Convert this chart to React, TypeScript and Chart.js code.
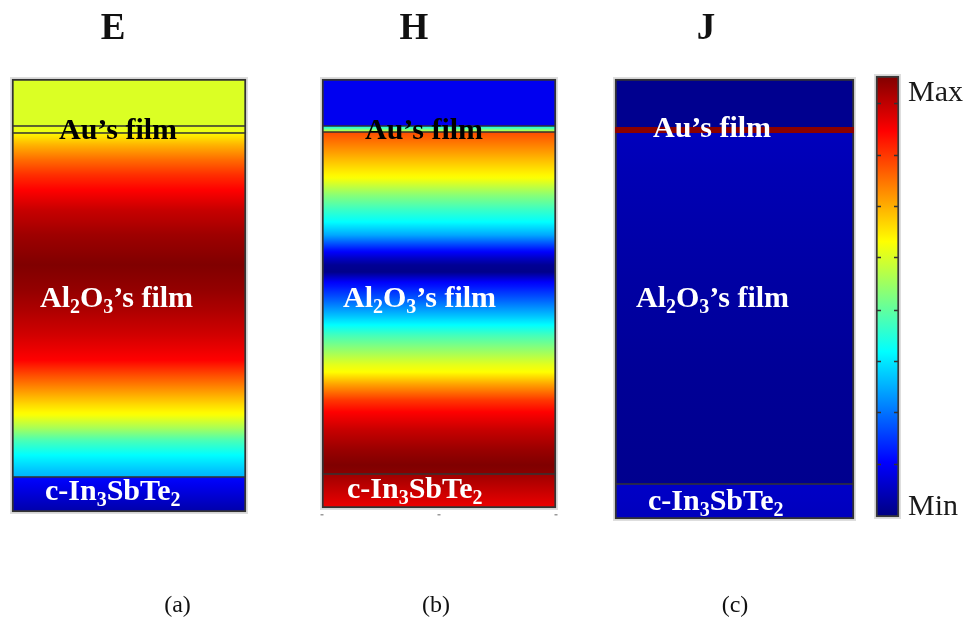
import React, { useEffect, useRef } from "react";
import { Chart, registerables } from "chart.js";

Chart.register(...registerables);

// ---- data -------------------------------------------------------------
const PANEL_TITLES = ["E", "H", "J"];
const PANEL_CAPTIONS = ["(a)", "(b)", "(c)"];

// Layer boundaries, depth below the top of each panel:
// ambient | Au film | Al2O3 film | c-In3SbTe2
const LAYERS_E = [0, 47, 54, 398, 433];
const LAYERS_H = [0, 47, 53, 395, 429];
const LAYERS_J = [0, 48, 54, 405, 440];

// Normalised field intensity (0 = Min, 1 = Max) sampled along depth.
// Repeated depths mark the jump across an interface.
const DEPTH_E = [0, 47, 47, 54, 54, 66, 81, 96, 111, 131, 156, 186, 211, 231, 256, 281, 296, 311, 326, 336, 349, 361, 376, 391, 398, 398, 433];
const FIELD_E = [0.59, 0.59, 0.6, 0.61, 0.63, 0.7, 0.77, 0.83, 0.875, 0.93, 0.97, 1.0, 0.98, 0.955, 0.92, 0.875, 0.8, 0.73, 0.66, 0.62, 0.54, 0.45, 0.375, 0.32, 0.3, 0.13, 0.04];

const DEPTH_H = [0, 47, 47, 53, 53, 71, 86, 99, 116, 131, 143, 156, 171, 179, 186, 193, 203, 221, 236, 246, 256, 271, 286, 293, 306, 321, 333, 351, 371, 386, 395, 395, 429];
const FIELD_H = [0.11, 0.11, 0.36, 0.6, 0.8, 0.73, 0.67, 0.62, 0.51, 0.43, 0.375, 0.29, 0.14, 0.07, 0.02, 0.01, 0.12, 0.22, 0.31, 0.375, 0.44, 0.52, 0.6, 0.625, 0.72, 0.82, 0.875, 0.93, 0.975, 1.0, 0.99, 0.97, 0.89];

const DEPTH_J = [0, 48, 48, 54, 54, 100, 200, 300, 405, 405, 440];
const FIELD_J = [0.015, 0.015, 0.99, 0.99, 0.06, 0.05, 0.035, 0.022, 0.014, 0.07, 0.06];

// Colour-bar tick positions (normalised)
const COLORBAR_TICKS = [0.12, 0.237, 0.354, 0.47, 0.59, 0.705, 0.82, 0.938];

// ---- layout & style ---------------------------------------------------
const W = 969;
const H = 620;
const PANEL_X = [129, 439, 734.5];
const PANEL_W = [234, 234, 239];
const COLORBAR_X = 887.5;
const COLORBAR_W = 23;
// interface lines drawn between consecutive layers (Au top, Au bottom, c-In3SbTe2 top)
const INTERFACE_LINES = [
  [1, 1, 1],
  [1, 1, 1],
  [0, 0, 1],
];
const EDGE = "#333333";
const OUTER = 2;
const SERIF = '"Liberation Serif", "Times New Roman", serif';

const TITLE_POS = [
  [113, 39],
  [414, 39],
  [706, 39],
];
const CAPTION_POS = [
  [177.5, 612],
  [436, 612],
  [735, 612],
];
// [x, baseline, colour] for: Au's film, Al2O3's film, c-In3SbTe2
const LABEL_POS = [
  [[59, 139, "#000"], [40, 307, "#fff"], [45, 500, "#fff"]],
  [[365, 139, "#000"], [343, 307, "#fff"], [347, 498, "#fff"]],
  [[653, 137, "#fff"], [636, 307, "#fff"], [648, 510, "#fff"]],
];

type Run = [string, boolean];
const LABEL_RUNS: Run[][] = [
  [["Au\u2019s film", false]],
  [["Al", false], ["2", true], ["O", false], ["3", true], ["\u2019s film", false]],
  [["c-In", false], ["3", true], ["SbTe", false], ["2", true]],
];

const LAYERS = [LAYERS_E, LAYERS_H, LAYERS_J];
const DEPTHS = [DEPTH_E, DEPTH_H, DEPTH_J];
const FIELDS = [FIELD_E, FIELD_H, FIELD_J];

// jet colour map
function jet(v: number): string {
  const c = (t: number) => Math.round(255 * Math.min(1, Math.max(0, 1.5 - Math.abs(t))));
  return `rgb(${c(4 * v - 3)},${c(4 * v - 2)},${c(4 * v - 1)})`;
}

const gradientCache = new Map<string, CanvasGradient>();

function profileGradient(chart: Chart, p: number): CanvasGradient | string {
  const y = chart.scales.y;
  if (!y || !chart.chartArea) return "#888";
  const depths = DEPTHS[p];
  const field = FIELDS[p];
  const span = depths[depths.length - 1];
  const top = y.getPixelForValue(depths[0]);
  const bottom = y.getPixelForValue(span);
  const key = `p${p}:${top}:${bottom}`;
  const hit = gradientCache.get(key);
  if (hit) return hit;
  const g = chart.ctx.createLinearGradient(0, top, 0, bottom);
  for (let i = 0; i < depths.length; i++) {
    g.addColorStop(depths[i] / span, jet(field[i]));
    if (i < depths.length - 1 && depths[i + 1] > depths[i]) {
      // intermediate stops so the colour map's knees render between samples
      for (let s = 1; s < 4; s++) {
        const f = s / 4;
        const d = depths[i] + f * (depths[i + 1] - depths[i]);
        g.addColorStop(d / span, jet(field[i] + f * (field[i + 1] - field[i])));
      }
    }
  }
  gradientCache.set(key, g);
  return g;
}

function colorbarGradient(chart: Chart): CanvasGradient | string {
  const y = chart.scales.yC;
  if (!y || !chart.chartArea) return "#888";
  const top = y.getPixelForValue(1);
  const bottom = y.getPixelForValue(0);
  const key = `cb:${top}:${bottom}`;
  const hit = gradientCache.get(key);
  if (hit) return hit;
  const g = chart.ctx.createLinearGradient(0, bottom, 0, top);
  for (let i = 0; i <= 40; i++) g.addColorStop(i / 40, jet(i / 40));
  gradientCache.set(key, g);
  return g;
}

function drawRuns(ctx: CanvasRenderingContext2D, runs: Run[], x: number, y: number, size: number, color: string) {
  ctx.fillStyle = color;
  ctx.textBaseline = "alphabetic";
  ctx.textAlign = "left";
  let cx = x;
  for (const [text, sub] of runs) {
    const s = sub ? Math.round(size * 0.68) : size;
    ctx.font = `bold ${s}px ${SERIF}`;
    ctx.fillText(text, cx, sub ? y + size * 0.2 : y);
    cx += ctx.measureText(text).width;
  }
}

const decorations = {
  id: "decorations",
  beforeDatasetsDraw(chart: Chart) {
    const ctx = chart.ctx;
    ctx.save();
    // soft halo round each panel and the colour bar
    for (let p = 0; p < 4; p++) {
      const meta = chart.getDatasetMeta(p);
      const els = meta.data as any[];
      if (!els.length) continue;
      const first = els[0].getProps(["x", "y", "base", "width"], true);
      const last = els[els.length - 1].getProps(["x", "y", "base", "width"], true);
      const top = Math.min(first.y, first.base);
      const bottom = Math.max(last.y, last.base);
      ctx.strokeStyle = "rgba(0,0,0,0.13)";
      ctx.lineWidth = 2;
      ctx.strokeRect(first.x - first.width / 2 - 1, top - 1, first.width + 2, bottom - top + 2);
    }
    ctx.restore();
  },
  afterDatasetsDraw(chart: Chart) {
    const ctx = chart.ctx;
    ctx.save();

    // colour-bar ticks on both inner edges
    const cbMeta = chart.getDatasetMeta(3);
    const cb = (cbMeta.data[0] as any).getProps(["x", "width"], true);
    const yC = chart.scales.yC;
    ctx.strokeStyle = "#333";
    ctx.lineWidth = 1.5;
    for (const t of COLORBAR_TICKS) {
      const py = Math.round(yC.getPixelForValue(t)) + 0.5;
      const l = cb.x - cb.width / 2;
      const r = cb.x + cb.width / 2;
      ctx.beginPath();
      ctx.moveTo(l + 1, py);
      ctx.lineTo(l + 5, py);
      ctx.moveTo(r - 5, py);
      ctx.lineTo(r - 1, py);
      ctx.stroke();
    }

    // small axis ticks under panel H
    const hMeta = chart.getDatasetMeta(1);
    const hEls = hMeta.data as any[];
    const hb = hEls[hEls.length - 1].getProps(["x", "y", "base", "width"], true);
    const hBottom = Math.max(hb.y, hb.base);
    ctx.fillStyle = "#9a9a9a";
    for (const f of [0, 0.5, 1]) {
      const px = hb.x - hb.width / 2 + f * hb.width;
      ctx.fillRect(px - 1.5, hBottom + 6, 3, 1.5);
    }

    // panel titles and captions
    ctx.fillStyle = "#111";
    ctx.textAlign = "center";
    ctx.textBaseline = "alphabetic";
    for (let p = 0; p < 3; p++) {
      ctx.font = `bold 37px ${SERIF}`;
      ctx.fillText(PANEL_TITLES[p], TITLE_POS[p][0], TITLE_POS[p][1]);
      ctx.font = `24px ${SERIF}`;
      ctx.fillText(PANEL_CAPTIONS[p], CAPTION_POS[p][0], CAPTION_POS[p][1]);
    }

    // layer labels
    for (let p = 0; p < 3; p++) {
      for (let k = 0; k < 3; k++) {
        const [x, y, color] = LABEL_POS[p][k] as [number, number, string];
        drawRuns(ctx, LABEL_RUNS[k], x, y, 30, color);
      }
    }

    // colour-bar end labels
    ctx.fillStyle = "#1a1a1a";
    ctx.textAlign = "left";
    ctx.font = `30px ${SERIF}`;
    const cbRight = cb.x + cb.width / 2;
    ctx.fillText("Max", cbRight + 9, 101);
    ctx.fillText("Min", cbRight + 9, 515);
    ctx.restore();
  },
};

function layerBars(p: number) {
  const b = LAYERS[p];
  const out: { x: number; y: [number, number] }[] = [];
  for (let k = 0; k < b.length - 1; k++) out.push({ x: PANEL_X[p], y: [b[k], b[k + 1]] });
  return out;
}

function panelDataset(p: number) {
  const lines = INTERFACE_LINES[p];
  const n = LAYERS[p].length - 1;
  return {
    label: PANEL_TITLES[p],
    data: layerBars(p),
    yAxisID: "y",
    barThickness: PANEL_W[p],
    grouped: false,
    borderSkipped: false as const,
    clip: false as const,
    backgroundColor: (c: any) => profileGradient(c.chart, p),
    borderColor: (c: any) => (p === 2 && c.dataIndex === 1 ? jet(FIELD_J[2]) : EDGE),
    borderWidth: (c: any) => {
      const k = c.dataIndex;
      return {
        left: OUTER,
        right: OUTER,
        top: k === 0 ? OUTER : lines[k - 1],
        bottom: k === n - 1 ? OUTER : lines[k],
      };
    },
  };
}

export default function App() {
  const ref = useRef<HTMLCanvasElement>(null);

  useEffect(() => {
    if (!ref.current) return;
    gradientCache.clear();
    const chart = new Chart(ref.current, {
      type: "bar",
      data: {
        datasets: [
          panelDataset(0),
          panelDataset(1),
          panelDataset(2),
          {
            label: "scale",
            data: [{ x: COLORBAR_X, y: [0, 1] }],
            yAxisID: "yC",
            barThickness: COLORBAR_W,
            grouped: false,
            borderSkipped: false,
            clip: false,
            backgroundColor: (c: any) => colorbarGradient(c.chart),
            borderColor: "#3a3a3a",
            borderWidth: 2,
          } as any,
        ],
      },
      options: {
        responsive: false,
        animation: false,
        events: [],
        layout: { padding: { top: 79, bottom: 108, left: 0, right: 0 } },
        plugins: { legend: { display: false }, tooltip: { enabled: false } },
        scales: {
          x: { type: "linear", min: 0, max: W, offset: false, display: false },
          y: { type: "linear", min: 0, max: 433, reverse: true, display: false },
          yC: { type: "linear", min: 0.011338, max: 0.9932, display: false },
        },
      } as any,
      plugins: [decorations],
    });
    return () => chart.destroy();
  }, []);

  return (
    <div style={{ position: "fixed", left: 0, top: 0, width: W, height: H, background: "#fff" }}>
      <canvas ref={ref} width={W} height={H} style={{ display: "block" }} />
    </div>
  );
}
